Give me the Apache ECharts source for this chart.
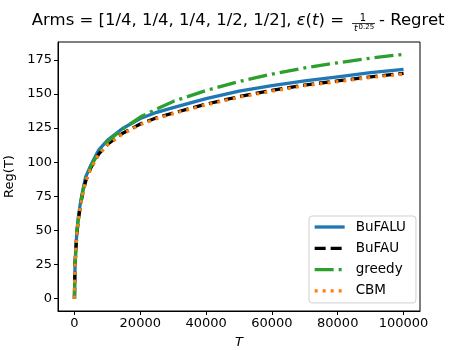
<!DOCTYPE html>
<html>
<head>
    <meta charset="utf-8">
    <title>Regret</title>
    <script src="https://cdn.jsdelivr.net/npm/echarts@6/dist/echarts.min.js"></script>
</head>
<body style="margin:0">
    <div id="main" style="width: 467px;height:350px;"></div>
    <script type="text/javascript">
        // horizon samples and regret
        var tSteps = [0, 50, 100, 200, 300, 500, 800, 1200, 1800, 2500, 3400, 5000, 7400, 10000, 14500,
                      20000, 25000, 30000, 40000, 50000, 60000, 70000, 80000, 90000, 100000]
        var bufalu = [0, 9, 16, 25, 31, 40, 51, 60, 70, 79, 89, 98, 109, 116, 124.5,
                      132, 136.5, 140, 146.5, 152, 156, 159.5, 162.5, 165.5, 168]
        var bufau  = [0, 8, 15, 24, 30, 39, 49, 58, 68, 77, 86, 96, 106, 113, 121,
                      128, 132.5, 136, 142.5, 148, 152.5, 156.5, 159.5, 162.5, 165]
        var greedy = [0, 8, 15, 24, 30, 39, 50, 59, 69, 78, 87, 97, 107, 115, 124,
                      133, 139, 144.5, 152.5, 159, 164.5, 169, 172.8, 176.2, 179]
        var cbm    = [0, 8, 15, 24, 30, 39, 49, 58, 67.5, 76.5, 86, 95.5, 105.5, 112.5, 120.5,
                      127.5, 132, 135.5, 142, 147.5, 152, 156, 159, 162, 164.5]
        var xTicks = [0, 20000, 40000, 60000, 80000, 100000]
        var yTicks = [0, 25, 50, 75, 100, 125, 150, 175]

        function pairs(ys){
            var out = []
            for (var i = 0; i < tSteps.length; i++) out.push([tSteps[i], ys[i]])
            return out
        }

        var myChart = echarts.init(document.getElementById('main'))
        var font = 'DejaVu Sans'
        var option = {
            animation: false,
            backgroundColor: '#fff',
            textStyle: {fontFamily: font},
            grid: {left: 58, right: 47, top: 42, bottom: 39, show: true, outerBoundsMode: 'none',
                   containLabel: false, borderColor: '#000', borderWidth: 1, backgroundColor: 'transparent'},
            graphic: [
                {type: 'text', x: 344, y: 21, style: {
                    text: 'Arms = [1/4, 1/4, 1/4, 1/2, 1/2], {i|ε}({i|t}) =',
                    font: '16.5px ' + font, fill: '#000', align: 'right', verticalAlign: 'middle',
                    rich: {i: {fontStyle: 'italic', fontSize: 16.5, fontFamily: font}}
                }},
                {type: 'text', x: 363, y: 18, style: {text: '1', font: '10px ' + font,
                    fill: '#000', align: 'center', verticalAlign: 'middle'}},
                {type: 'line', shape: {x1: 352, y1: 23.5, x2: 375, y2: 23.5},
                    style: {stroke: '#000', lineWidth: 0.8}},
                {type: 'text', x: 354, y: 29, style: {text: 't', font: 'italic 9px ' + font,
                    fill: '#000', align: 'left', verticalAlign: 'middle'}},
                {type: 'text', x: 358.5, y: 27, style: {text: '0.25', font: '7px ' + font,
                    fill: '#000', align: 'left', verticalAlign: 'middle'}},
                {type: 'text', x: 379, y: 21, style: {text: '- Regret', font: '16.5px ' + font,
                    fill: '#000', align: 'left', verticalAlign: 'middle'}}
            ],
            legend: {
                orient: 'vertical', left: 309, top: 216,
                backgroundColor: '#fff', borderColor: '#d0d0d0', borderWidth: 1, borderRadius: 3,
                padding: [4, 10, 5, 4], itemWidth: 30, itemHeight: 14, itemGap: 7.3,
                itemStyle: {opacity: 0}, lineStyle: {width: 3.3},
                textStyle: {fontSize: 13.5, color: '#000', fontFamily: font, padding: [0, 0, 0, 6]},
                data: ['BuFALU', 'BuFAU', 'greedy', 'CBM']
            },
            xAxis: {
                type: 'value', min: -5000, max: 105000,
                name: 'T', nameLocation: 'middle', nameGap: 25,
                nameTextStyle: {fontSize: 13, fontStyle: 'italic', color: '#000', fontFamily: font},
                axisLine: {show: true, onZero: false, lineStyle: {color: '#000'}},
                axisTick: {show: true, length: 4, customValues: xTicks, lineStyle: {color: '#000'}},
                axisLabel: {customValues: xTicks, fontSize: 13, color: '#000', margin: 6,
                    formatter: function(v){ return String(v) }},
                splitLine: {show: false}
            },
            yAxis: {
                type: 'value', min: -9, max: 188,
                name: 'Reg(T)', nameLocation: 'middle', nameGap: 36,
                nameTextStyle: {fontSize: 13, color: '#000', fontFamily: font},
                axisLine: {show: true, onZero: false, lineStyle: {color: '#000'}},
                axisTick: {show: true, length: 4, customValues: yTicks, lineStyle: {color: '#000'}},
                axisLabel: {customValues: yTicks, fontSize: 13, color: '#000', margin: 6},
                splitLine: {show: false}
            },
            series: [
                {name: 'BuFALU', type: 'line', data: pairs(bufalu), symbol: 'none', showSymbol: false,
                 itemStyle: {color: '#1f77b4'}, lineStyle: {color: '#1f77b4', width: 3.3}},
                {name: 'BuFAU', type: 'line', data: pairs(bufau), symbol: 'none', showSymbol: false,
                 itemStyle: {color: '#000'}, lineStyle: {color: '#000', width: 3.3, type: [11, 5]}},
                {name: 'greedy', type: 'line', data: pairs(greedy), symbol: 'none', showSymbol: false,
                 itemStyle: {color: '#2ca02c'}, lineStyle: {color: '#2ca02c', width: 3.3, type: [19, 5, 3, 5]}},
                {name: 'CBM', type: 'line', data: pairs(cbm), symbol: 'none', showSymbol: false,
                 itemStyle: {color: '#ff7f0e'}, lineStyle: {color: '#ff7f0e', width: 3.3, type: [3, 5]}}
            ]
        };
        myChart.setOption(option);
    </script>
</body>
</html>
